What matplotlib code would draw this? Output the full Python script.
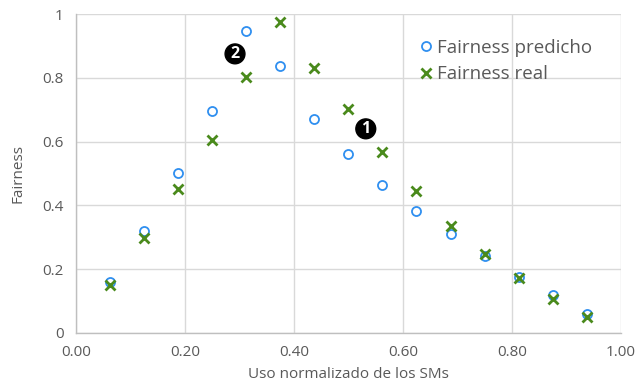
import matplotlib
matplotlib.use("Agg")
import matplotlib.pyplot as plt

# SM usage (normalized) and fairness values
uso = [0.0625, 0.125, 0.1875, 0.25, 0.3125, 0.375, 0.4375, 0.5,
       0.5625, 0.625, 0.6875, 0.75, 0.8125, 0.875, 0.9375]
fairness_predicho = [0.16, 0.32, 0.50, 0.696, 0.947, 0.837, 0.671, 0.561,
                     0.464, 0.382, 0.31, 0.24, 0.175, 0.118, 0.058]
fairness_real = [0.15, 0.298, 0.452, 0.605, 0.802, 0.975, 0.83, 0.702,
                 0.567, 0.445, 0.335, 0.248, 0.172, 0.105, 0.05]

x_ticks = [0.0, 0.2, 0.4, 0.6, 0.8, 1.0]
x_tick_labels = ["0.00", "0.20", "0.40", "0.60", "0.80", "1.00"]
y_ticks = [0.0, 0.2, 0.4, 0.6, 0.8, 1.0]
y_tick_labels = ["0", "0.2", "0.4", "0.6", "0.8", "1"]

# numbered callouts: (label, x, y)
callouts = [("2", 0.292, 0.875), ("1", 0.532, 0.64)]

plt.rcParams['font.family'] = ['Open Sans', 'DejaVu Sans']
text_color = "#595959"
grid_color = "#d9d9d9"

fig = plt.figure(figsize=(6.38, 3.89), dpi=100)
ax = fig.add_axes([0.119, 0.144, 0.854, 0.82])

ax.plot(uso, fairness_predicho, linestyle="none", marker="o", markersize=6.5,
        markerfacecolor="none", markeredgecolor="#2f8ff0", markeredgewidth=1.3,
        label="Fairness predicho", zorder=3)
ax.plot(uso, fairness_real, linestyle="none", marker="x", markersize=7,
        color="#4a8a1c", markeredgewidth=2.0, label="Fairness real", zorder=4)

for lab, cx, cy in callouts:
    ax.text(cx, cy, lab, ha="center", va="center", fontsize=11.5, color="white",
            fontweight="bold", zorder=5,
            bbox=dict(boxstyle="circle,pad=0.12", facecolor="black", edgecolor="black"))

ax.set_xlim(0, 1)
ax.set_ylim(0, 1)
ax.set_xticks(x_ticks)
ax.set_xticklabels(x_tick_labels)
ax.set_yticks(y_ticks)
ax.set_yticklabels(y_tick_labels)
ax.tick_params(axis="both", length=0, labelsize=11, colors=text_color, pad=9)

ax.grid(True, color=grid_color, linewidth=1.0, zorder=0)
ax.set_axisbelow(True)
for side in ["top", "right"]:
    ax.spines[side].set_visible(False)
for side in ["left", "bottom"]:
    ax.spines[side].set_color("#bfbfbf")
    ax.spines[side].set_linewidth(1.0)

ax.set_xlabel("Uso normalizado de los SMs", fontsize=11, color=text_color, labelpad=5)
ax.set_ylabel("Fairness", fontsize=11, color=text_color, labelpad=12)

leg = ax.legend(loc="upper left", bbox_to_anchor=(0.59, 0.975), frameon=False,
                fontsize=13.5, handletextpad=0.0, labelspacing=0.45, handlelength=1.2,
                labelcolor=text_color)

fig.savefig("out.png", dpi=100)
